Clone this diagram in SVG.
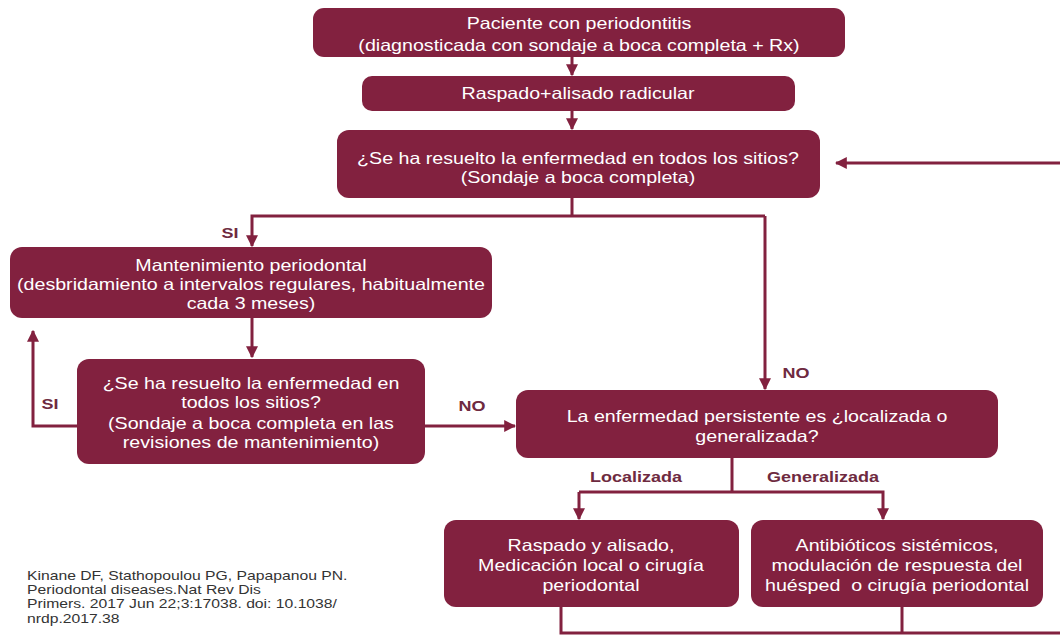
<svg xmlns="http://www.w3.org/2000/svg" width="1060" height="637" viewBox="0 0 1060 637">
<defs>
<marker id="ah" viewBox="0 0 10 10" refX="9" refY="5" markerWidth="4" markerHeight="4" orient="auto" markerUnits="strokeWidth">
<path d="M0,0 L10,5 L0,10 z" fill="#82213f"/>
</marker>
<style>
.box{fill:#82213f;}
.t{font-family:"Liberation Sans",Arial,sans-serif;font-size:16.5px;fill:#ffffff;text-anchor:middle;}
.c{fill:none;stroke:#82213f;stroke-width:3;}
.a{marker-end:url(#ah);}
.lb{font-family:"Liberation Sans",Arial,sans-serif;font-size:15px;font-weight:bold;fill:#6e2a40;text-anchor:middle;}
.cit{font-family:"Liberation Sans",Arial,sans-serif;font-size:13px;fill:#333333;}
</style>
</defs>
<rect width="1060" height="637" fill="#ffffff"/>
<g id="connectors">
<path class="c a" d="M572,57 V75"/>
<path class="c a" d="M572,111 V129"/>
<path class="c" d="M572,198 V216"/>
<path class="c a" d="M765,216 H252 V246"/>
<path class="c a" d="M765,216 V389"/>
<path class="c a" d="M1060,163 H836"/>
<path class="c a" d="M252,318 V357"/>
<path class="c a" d="M77,426 H33 V331"/>
<path class="c a" d="M425,426 H515"/>
<path class="c" d="M732,458 V492"/>
<path class="c a" d="M579,492 H883 V519"/>
<path class="c a" d="M579,492 V519"/>
<path class="c" d="M561,607 V633 H1060"/>
<path class="c" d="M902,607 V633"/>
</g>
<g id="labels">
<text class="lb" transform="translate(230 0) scale(1.2 1)" y="238">SI</text>
<text class="lb" transform="translate(50 0) scale(1.2 1)" y="409">SI</text>
<text class="lb" transform="translate(472 0) scale(1.2 1)" y="411">NO</text>
<text class="lb" transform="translate(796 0) scale(1.2 1)" y="378">NO</text>
<text class="lb" transform="translate(636 0) scale(1.2 1)" y="482">Localizada</text>
<text class="lb" transform="translate(823 0) scale(1.2 1)" y="482">Generalizada</text>
</g>
<g id="n1">
<rect class="box" x="313" y="8" width="532" height="49" rx="11"/>
<g transform="translate(579 0) scale(1.19 1)">
<text class="t" y="29">Paciente con periodontitis</text>
<text class="t" y="51">(diagnosticada con sondaje a boca completa + Rx)</text>
</g>
</g>
<g id="n2">
<rect class="box" x="362" y="76" width="433" height="35" rx="10"/>
<g transform="translate(578 0) scale(1.19 1)">
<text class="t" y="99">Raspado+alisado radicular</text>
</g>
</g>
<g id="n3">
<rect class="box" x="337" y="130" width="483" height="68" rx="12"/>
<g transform="translate(578 0) scale(1.19 1)">
<text class="t" y="164">¿Se ha resuelto la enfermedad en todos los sitios?</text>
<text class="t" y="183">(Sondaje a boca completa)</text>
</g>
</g>
<g id="n4">
<rect class="box" x="10" y="247" width="482" height="71" rx="12"/>
<g transform="translate(251 0) scale(1.19 1)">
<text class="t" y="271">Mantenimiento periodontal</text>
<text class="t" y="290">(desbridamiento a intervalos regulares, habitualmente</text>
<text class="t" y="309">cada 3 meses)</text>
</g>
</g>
<g id="n5">
<rect class="box" x="77" y="359" width="348" height="105" rx="12"/>
<g transform="translate(251 0) scale(1.19 1)">
<text class="t" y="389">¿Se ha resuelto la enfermedad en</text>
<text class="t" y="408">todos los sitios?</text>
<text class="t" y="429">(Sondaje a boca completa en las</text>
<text class="t" y="448">revisiones de mantenimiento)</text>
</g>
</g>
<g id="n6">
<rect class="box" x="516" y="390" width="482" height="68" rx="12"/>
<g transform="translate(757 0) scale(1.19 1)">
<text class="t" y="422">La enfermedad persistente es ¿localizada o</text>
<text class="t" y="442">generalizada?</text>
</g>
</g>
<g id="n7">
<rect class="box" x="444" y="520" width="295" height="87" rx="12"/>
<g transform="translate(591 0) scale(1.19 1)">
<text class="t" y="551">Raspado y alisado,</text>
<text class="t" y="571">Medicación local o cirugía</text>
<text class="t" y="591">periodontal</text>
</g>
</g>
<g id="n8">
<rect class="box" x="751" y="520" width="292" height="87" rx="12"/>
<g transform="translate(897 0) scale(1.19 1)">
<text class="t" y="551">Antibióticos sistémicos,</text>
<text class="t" y="571">modulación de respuesta del</text>
<text class="t" y="591" xml:space="preserve">huésped  o cirugía periodontal</text>
</g>
</g>
<g id="citation" transform="translate(27 0) scale(1.21 1)">
<text class="cit" y="580">Kinane DF, Stathopoulou PG, Papapanou PN.</text>
<text class="cit" y="594">Periodontal diseases.Nat Rev Dis</text>
<text class="cit" y="608">Primers. 2017 Jun 22;3:17038. doi: 10.1038/</text>
<text class="cit" y="623">nrdp.2017.38</text>
</g>
</svg>
